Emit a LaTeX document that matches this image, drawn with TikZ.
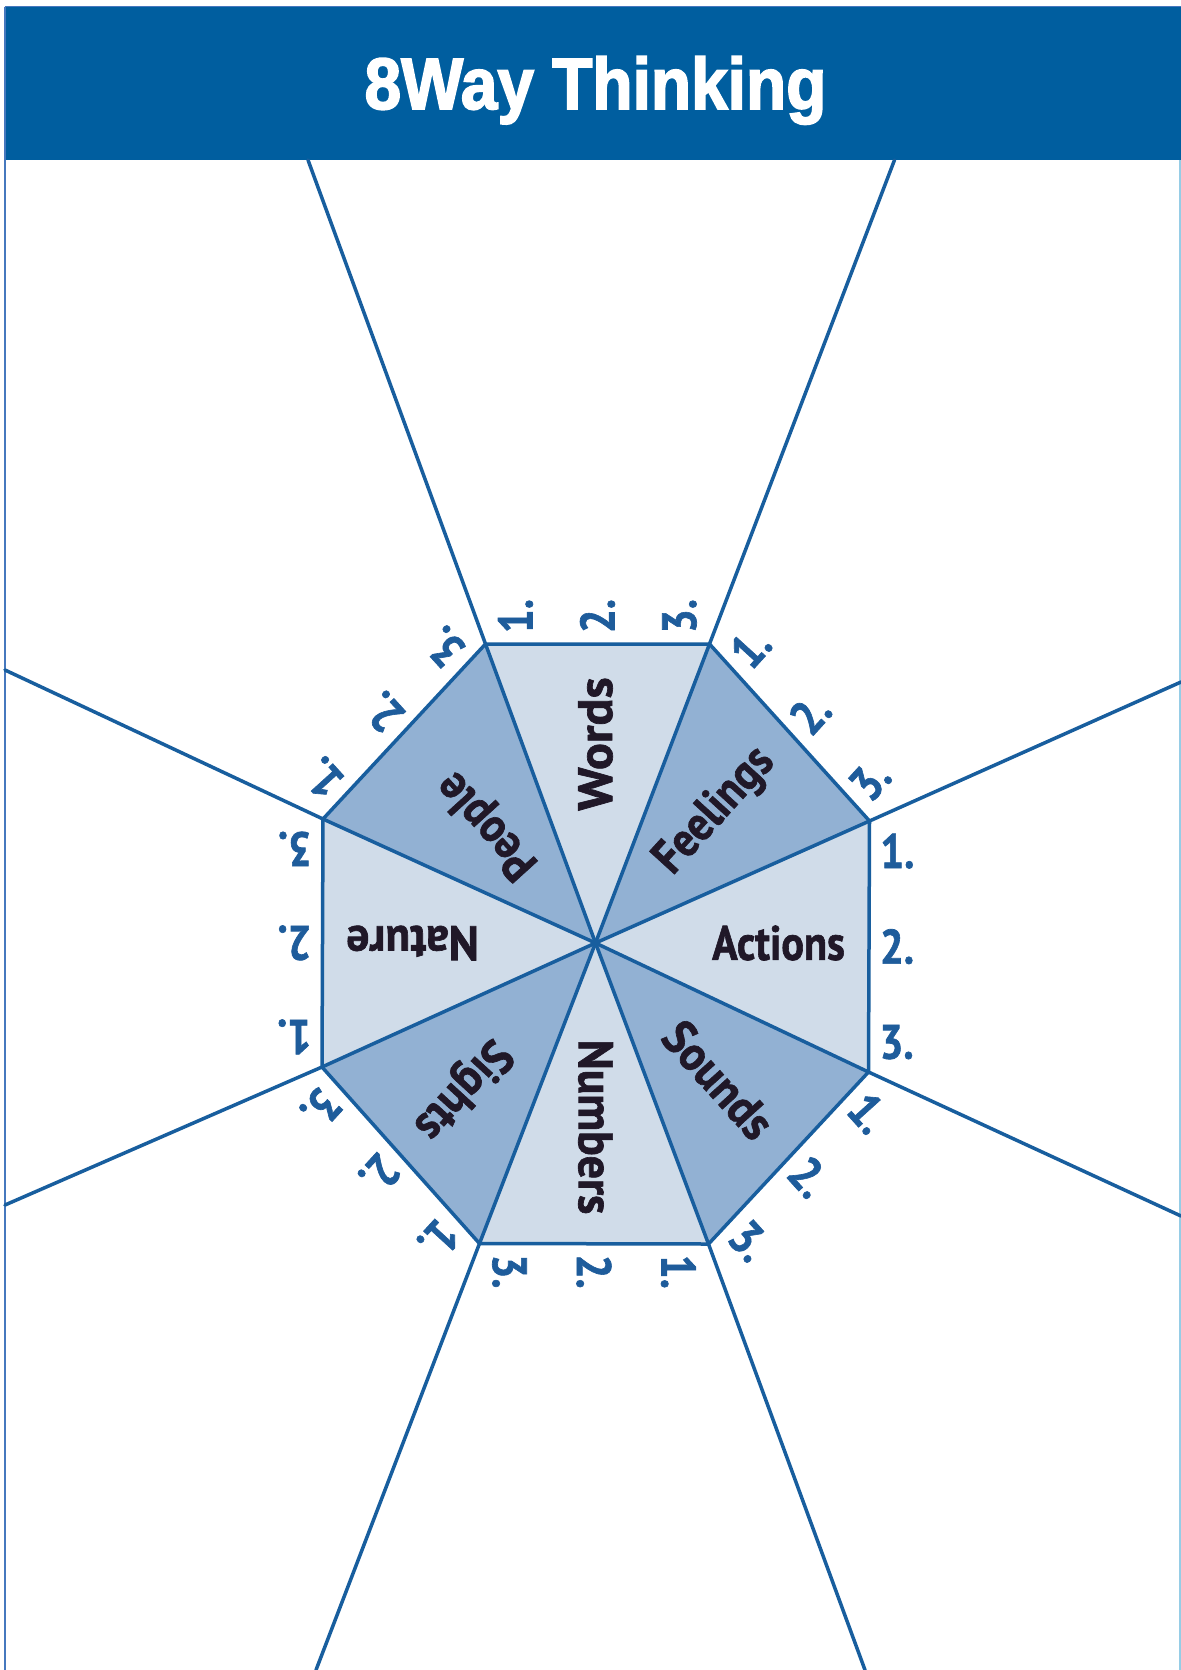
\documentclass[tikz,border=0pt]{standalone}
\usepackage{fontspec}
\setmainfont{PT Sans}[BoldFeatures={FakeBold=1.4}]
\newfontfamily\titlefont{Liberation Sans}[BoldFeatures={FakeBold=2.5}]
\usetikzlibrary{calc}
\definecolor{barblue}{RGB}{0,94,159}
\definecolor{lineblue}{RGB}{24,94,158}
\definecolor{lightfill}{RGB}{208,220,233}
\definecolor{darkfill}{RGB}{146,177,211}
\definecolor{labelcol}{RGB}{32,24,40}
\definecolor{numcol}{RGB}{30,92,155}
\definecolor{frameblue}{RGB}{70,120,190}
\definecolor{frameright}{RGB}{150,205,230}
\begin{document}
\begin{tikzpicture}[x=0.5pt,y=0.5pt,
  spokeline/.style={draw=lineblue, line width=1.75pt, line cap=round, line join=round},
  lightsector/.style={fill=lightfill},
  darksector/.style={fill=darkfill},
  sectorlabel/.style={text=labelcol, font=\bfseries\fontsize{22}{22}\selectfont, inner sep=0pt},
  numlabel/.style={text=numcol, font=\bfseries\fontsize{21}{21}\selectfont, inner sep=0pt},
  titletext/.style={text=white, font=\titlefont\bfseries\fontsize{35}{35}\selectfont, inner sep=0pt}]
\useasboundingbox (0,0) rectangle (1181,-1670);
\fill[white] (0,0) rectangle (1181,-1670);
% frame and title bar
\fill[barblue] (5,-7) rectangle (1181,-160);
\draw[frameblue, line width=0.8pt] (4.5,-6.5) -- (1181,-6.5);
\draw[frameblue, line width=1pt] (4.5,-6.5) -- (4.5,-1670);
\draw[frameright, line width=0.8pt] (1180,-160) -- (1180,-1670);
\node[titletext, anchor=base, xscale=0.94, yscale=1.04] (title) at (595.5,-109) {8Way Thinking};
% geometry
\coordinate (c)  at (595.5,-943);
\coordinate (TL) at (485.5,-644);
\coordinate (TR) at (709.5,-644);
\coordinate (RU) at (869.5,-821);
\coordinate (RL) at (868.5,-1072);
\coordinate (BR) at (708.5,-1244);
\coordinate (BL) at (479.5,-1243.5);
\coordinate (LL) at (322,-1067);
\coordinate (LU) at (323,-819);
\coordinate (TLo) at (308,-160);
\coordinate (TRo) at (894.5,-160);
\coordinate (RUo) at (1181,-682);
\coordinate (RLo) at (1181,-1216);
\coordinate (BRo) at (865,-1670);
\coordinate (BLo) at (316,-1670);
\coordinate (LLo) at (5,-1205);
\coordinate (LUo) at (5,-670);
% sectors
\fill[lightsector] (c) -- (TL) -- (TR) -- cycle;
\fill[darksector]  (c) -- (TR) -- (RU) -- cycle;
\fill[lightsector] (c) -- (RU) -- (RL) -- cycle;
\fill[darksector]  (c) -- (RL) -- (BR) -- cycle;
\fill[lightsector] (c) -- (BR) -- (BL) -- cycle;
\fill[darksector]  (c) -- (BL) -- (LL) -- cycle;
\fill[lightsector] (c) -- (LL) -- (LU) -- cycle;
\fill[darksector]  (c) -- (LU) -- (TL) -- cycle;
% spokes
\foreach \v in {TL,TR,RU,RL,BR,BL,LL,LU}{
  \draw[spokeline] (c) -- (\v) -- (\v o);
}
% octagon outline
\draw[spokeline] (TL) -- (TR) -- (RU) -- (RL) -- (BR) -- (BL) -- (LL) -- (LU) -- cycle;
% sector labels
\node[sectorlabel, rotate=90, xscale=1.14, yscale=1.1]     (words)    at ($(c)+(90:199)$)     {Words};
\node[sectorlabel, rotate=47.7, xscale=0.97, yscale=1.1]   (feelings) at ($(c)+(47.7:178)$)   {Feelings};
\node[sectorlabel, rotate=0, xscale=0.96, yscale=1.1]      (actions)  at ($(c)+(0:183)$)      {Actions};
\node[sectorlabel, rotate=-48, xscale=1.02, yscale=1.1]    (sounds)   at ($(c)+(-48:184)$)    {Sounds};
\node[sectorlabel, rotate=-90, xscale=1.04, yscale=1.1]    (numbers)  at ($(c)+(-90:184)$)    {Numbers};
\node[sectorlabel, rotate=-132.5, xscale=1.02, yscale=1.1] (sights)   at ($(c)+(-132.5:198)$) {Sights};
\node[sectorlabel, rotate=180, xscale=1.04, yscale=1.1]    (nature)   at ($(c)+(180:183)$)    {Nature};
\node[sectorlabel, rotate=132.2, xscale=0.98, yscale=1.1]  (people)   at ($(c)+(132.2:160)$)  {People};
% numbers along each edge
\foreach \a/\b/\ang in {TL/TR/90, TR/RU/47.7, RU/RL/0, RL/BR/-48, BR/BL/-90, BL/LL/-132.5, LL/LU/180, LU/TL/132.2}{
  \coordinate (p1\a) at ($(\a)!15pt!(\b)$);
  \coordinate (p2\a) at ($(\a)!0.5!(\b)$);
  \coordinate (p3\a) at ($(\b)!15pt!(\a)$);
  \node[numlabel, rotate=\ang, yscale=1.15] (one\a)   at ($(p1\a)!14pt!90:(\b)$)  {1.};
  \node[numlabel, rotate=\ang, yscale=1.15] (two\a)   at ($(p2\a)!14pt!90:(\b)$)  {2.};
  \node[numlabel, rotate=\ang, yscale=1.15] (three\a) at ($(p3\a)!14pt!-90:(\a)$) {3.};
}
\end{tikzpicture}
\end{document}
